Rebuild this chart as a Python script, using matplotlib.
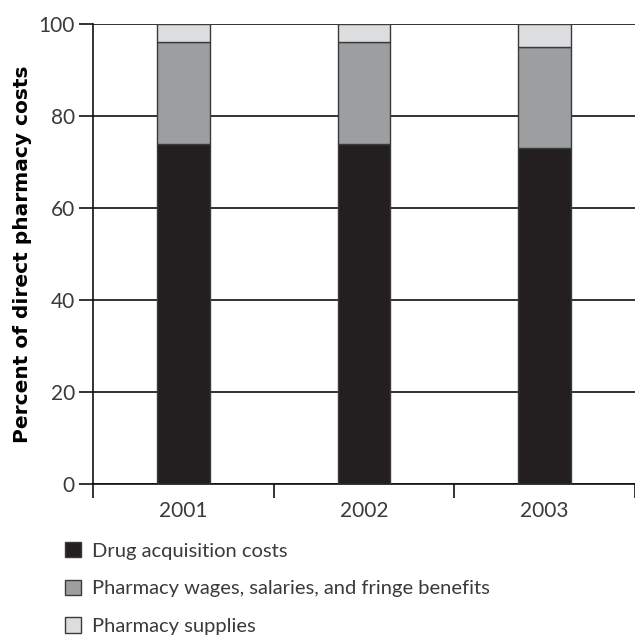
import numpy as np
import matplotlib
matplotlib.use("Agg")
import matplotlib.pyplot as plt
from matplotlib.patches import Patch

plt.rcParams['font.family'] = ['Lato', 'DejaVu Sans']

years = ['2001', '2002', '2003']
drug_costs = [74, 74, 73]
wages = [22, 22, 22]
supplies = [4, 4, 5]
series_names = ['Drug acquisition costs',
                'Pharmacy wages, salaries, and fringe benefits',
                'Pharmacy supplies']

colors = ['#231f20', '#9d9ea0', '#dcdddf']
edge = '#3a3a3a'
text_col = '#3a3a3a'

fig = plt.figure(figsize=(6.35, 6.4), dpi=100)
ax = fig.add_axes([93 / 635, 156 / 640, 1 - 93 / 635, 460 / 640])

x = np.arange(len(years))
w = 0.29
bottom = np.zeros(len(years))
for vals, c in zip([drug_costs, wages, supplies], colors):
    ax.bar(x, vals, w, bottom=bottom, color=c, edgecolor=edge, linewidth=1.0, zorder=3)
    bottom += np.array(vals)

ax.set_xlim(-0.5, 2.5)
ax.set_ylim(0, 100)
ax.set_yticks([0, 20, 40, 60, 80, 100])
ax.yaxis.grid(True, color='#111111', linewidth=1.2, zorder=0)
ax.set_axisbelow(True)

# year labels sit between the tick marks
ax.set_xticks(x)
ax.set_xticklabels(years)
ax.tick_params(axis='x', which='major', length=0, pad=12, labelsize=15, labelcolor=text_col)
ax.set_xticks([-0.5, 0.5, 1.5, 2.5], minor=True)
ax.tick_params(axis='x', which='minor', length=10, width=1.2, color='#111111', direction='out')
ax.tick_params(axis='y', length=10, width=1.2, color='#111111', pad=3, labelsize=15, labelcolor=text_col)

for s in ['top', 'right']:
    ax.spines[s].set_visible(False)
for s in ['left', 'bottom']:
    ax.spines[s].set_linewidth(1.2)
    ax.spines[s].set_color('#111111')

ax.set_ylabel('Percent of direct pharmacy costs', fontsize=14.5, fontweight='bold',
              family=['DejaVu Sans'], labelpad=5)

handles = [Patch(facecolor=c, edgecolor=edge, linewidth=1.0) for c in colors]
fig.legend(handles, series_names, loc='upper left', bbox_to_anchor=(0.09, 0.166),
           frameon=False, fontsize=14.5, handlelength=0.8, handleheight=0.8,
           handletextpad=0.55, labelspacing=1.0, borderaxespad=0,
           labelcolor=text_col)

fig.savefig('out.png', dpi=100)
